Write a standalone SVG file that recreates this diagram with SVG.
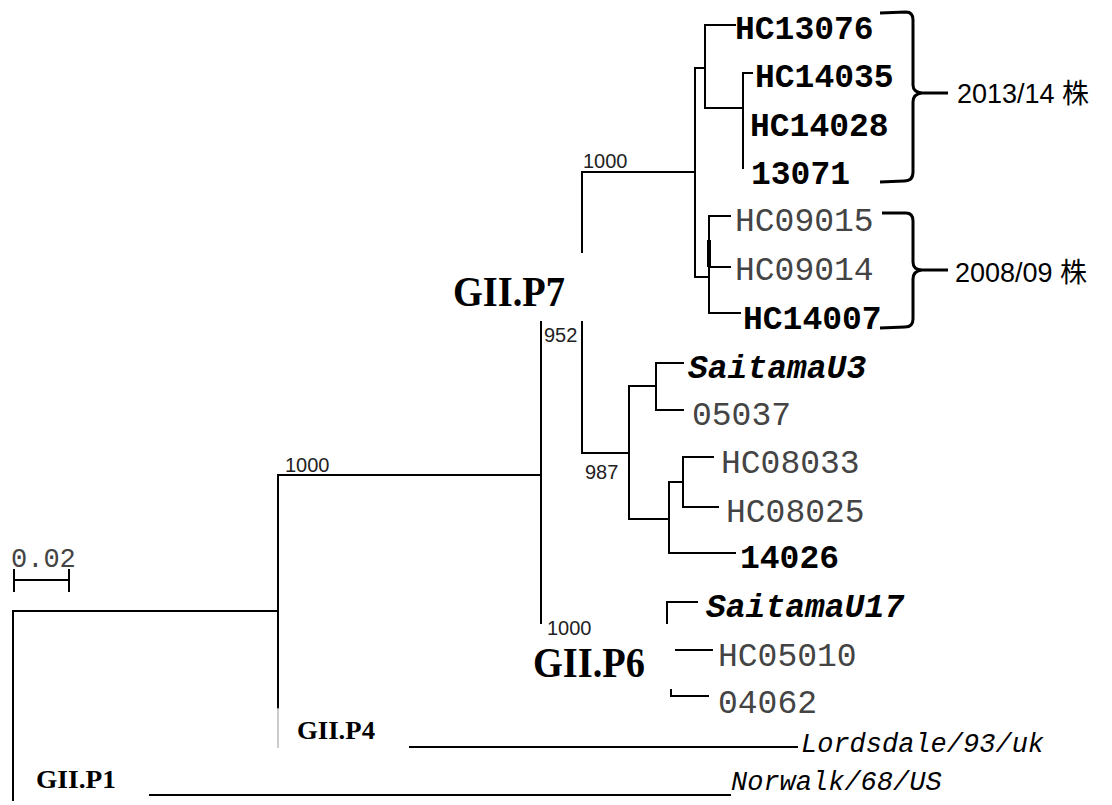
<svg xmlns="http://www.w3.org/2000/svg" width="1112" height="805" viewBox="0 0 1112 805">
<style>
.br{stroke:#000;stroke-width:2;fill:none;stroke-linecap:square}
.gr{stroke:#bbb;stroke-width:1.5;fill:none}
.brace{stroke:#000;stroke-width:3;fill:none;stroke-linejoin:round}
.tb{font-family:"Liberation Mono",monospace;font-size:33px;font-weight:bold;fill:#000}
.tl{font-family:"Liberation Mono",monospace;font-size:33px;fill:#444}
.ti{font-family:"Liberation Mono",monospace;font-size:33px;font-weight:bold;font-style:italic;fill:#000}
.to{font-family:"Liberation Mono",monospace;font-size:27px;font-style:italic;fill:#000}
.bs{font-family:"Liberation Sans",sans-serif;font-size:20px;fill:#222}
.gp{font-family:"Liberation Serif",serif;font-weight:bold;fill:#000}
.yr{font-family:"Liberation Sans","Noto Sans CJK JP",sans-serif;font-size:27px;fill:#000}
.sc{font-family:"Liberation Mono",monospace;font-size:27px;fill:#444}
</style>
<rect width="1112" height="805" fill="#fff"/>
<g id="connectors">
<!-- root -->
<path class="br" d="M13,800 V611 H278"/>
<path class="br" d="M278,708 V475 H541"/>
<path class="gr" d="M278,708 V748"/>
<path class="br" d="M410,747 H797"/>
<path class="br" d="M150,795 H730"/>
<!-- P6/P7 split -->
<path class="br" d="M541,322 V623"/>
<!-- P7 -->
<path class="br" d="M582,252 V172 H695"/>
<path class="br" d="M582,322 V453 H629"/>
<!-- 2013/14 subtree -->
<path class="br" d="M695,172 V68 H705"/>
<path class="br" d="M735,25 H705 V108 H743"/>
<path class="br" d="M752,73 H743 V168"/>
<!-- 2008/09 subtree -->
<path class="br" d="M695,172 V277 H709"/>
<path class="br" d="M730,216 H709 V313 H740"/>
<path class="br" d="M709,267 H730"/>
<path d="M709,240 V267" stroke="#000" stroke-width="4"/>
<!-- 987 subtree -->
<path class="br" d="M656,386 H629 V519 H669"/>
<path class="br" d="M683,363 H656 V410 H683"/>
<path class="br" d="M683,482 H669 V553 H735"/>
<path class="br" d="M713,457 H683 V507 H718"/>
<!-- P6 -->
<path class="br" d="M667,623 V602 H697"/>
<path class="br" d="M676,650 H712"/>
<path class="br" d="M671,690 V696 H708"/>
<!-- scale bar -->
<path class="br" d="M14,570 V591 M14,580 H69 M69,570 V591"/>
</g>
<g id="braces">
<path class="brace" d="M880,13 L906,12 Q913,12 913,20 L913,85 Q913,92 922,93 L948,93 M922,93 Q913,94 913,102 L913,172 Q913,181 904,181 L880,182"/>
<path class="brace" d="M882,213 L906,213 Q913,213 913,221 L913,262 Q913,270 922,270 L948,270 M922,270 Q913,271 913,279 L913,319 Q913,327 905,327 L880,328"/>
</g>
<g id="n-HC13076"><text class="tb" x="735" y="39">HC13076</text></g>
<g id="n-HC14035"><text class="tb" x="755" y="87">HC14035</text></g>
<g id="n-HC14028"><text class="tb" x="750" y="136">HC14028</text></g>
<g id="n-13071"><text class="tb" x="751" y="184">13071</text></g>
<g id="n-HC09015"><text class="tl" x="735" y="231">HC09015</text></g>
<g id="n-HC09014"><text class="tl" x="735" y="280">HC09014</text></g>
<g id="n-HC14007"><text class="tb" x="743" y="329">HC14007</text></g>
<g id="n-SaitamaU3"><text class="ti" x="688" y="378">SaitamaU3</text></g>
<g id="n-05037"><text class="tl" x="692" y="425">05037</text></g>
<g id="n-HC08033"><text class="tl" x="721" y="473">HC08033</text></g>
<g id="n-HC08025"><text class="tl" x="726" y="522">HC08025</text></g>
<g id="n-14026"><text class="tb" x="740" y="568">14026</text></g>
<g id="n-SaitamaU17"><text class="ti" x="706" y="617">SaitamaU17</text></g>
<g id="n-HC05010"><text class="tl" x="718" y="666">HC05010</text></g>
<g id="n-04062"><text class="tl" x="718" y="713">04062</text></g>
<g id="n-Lordsdale"><text class="to" x="801" y="752">Lordsdale/93/uk</text></g>
<g id="n-Norwalk"><text class="to" x="731" y="790">Norwalk/68/US</text></g>
<g id="bootstrap">
<text class="bs" x="583" y="168">1000</text>
<text class="bs" x="285" y="472">1000</text>
<text class="bs" x="544" y="342">952</text>
<text class="bs" x="585" y="479">987</text>
<text class="bs" x="547" y="635">1000</text>
</g>
<g id="groups">
<text class="gp" x="453" y="306" font-size="43" textLength="112" lengthAdjust="spacingAndGlyphs">GII.P7</text>
<text class="gp" x="533" y="677" font-size="43" textLength="112" lengthAdjust="spacingAndGlyphs">GII.P6</text>
<text class="gp" x="297" y="739" font-size="26" textLength="78" lengthAdjust="spacingAndGlyphs">GII.P4</text>
<text class="gp" x="36" y="788" font-size="26" textLength="80" lengthAdjust="spacingAndGlyphs">GII.P1</text>
</g>
<g id="year-labels">
<text class="yr" x="957" y="103">2013/14 株</text>
<text class="yr" x="955" y="282">2008/09 株</text>
</g>
<g id="scale"><text class="sc" x="11" y="567">0.02</text></g>
</svg>
